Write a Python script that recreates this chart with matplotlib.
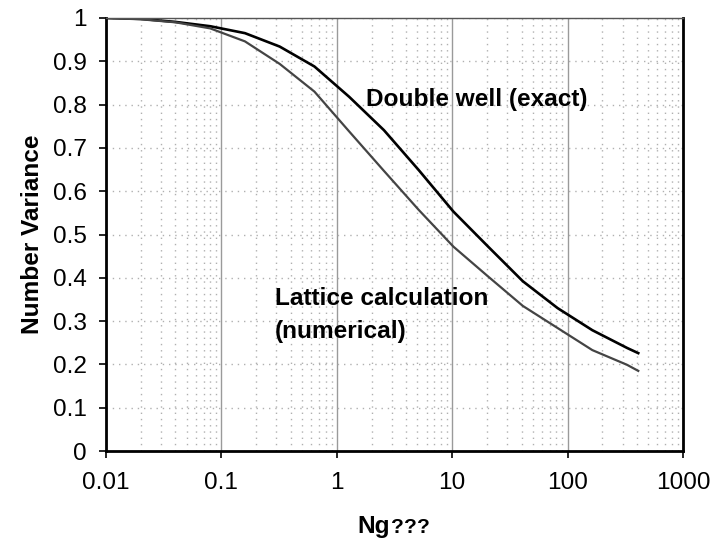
import matplotlib
matplotlib.use("Agg")
import matplotlib.pyplot as plt
from matplotlib.ticker import FixedLocator, NullFormatter, LogLocator

plt.rcParams['font.family'] = ['Liberation Sans', 'DejaVu Sans']

# data
ng = [0.01, 0.02, 0.04, 0.08, 0.16, 0.32, 0.64, 1.28, 2.56, 5.12, 10.24,
      20.48, 40.96, 81.92, 163.84, 327.68, 409.6]
double_well = [1.0, 0.998, 0.991, 0.981, 0.965, 0.934, 0.888, 0.818, 0.741,
               0.649, 0.553, 0.472, 0.392, 0.330, 0.279, 0.238, 0.226]
lattice = [1.0, 0.997, 0.990, 0.976, 0.946, 0.894, 0.830, 0.738, 0.647,
           0.557, 0.472, 0.403, 0.335, 0.284, 0.233, 0.199, 0.185]
x_ticks = [0.01, 0.1, 1, 10, 100, 1000]
x_tick_labels = ["0.01", "0.1", "1", "10", "100", "1000"]
y_ticks = [0, 0.1, 0.2, 0.3, 0.4, 0.5, 0.6, 0.7, 0.8, 0.9, 1]
y_tick_labels = ["0", "0.1", "0.2", "0.3", "0.4", "0.5", "0.6", "0.7", "0.8", "0.9", "1"]

FS = 17.6

fig = plt.figure(figsize=(7.15, 5.46), dpi=100)
ax = fig.add_axes([106/715, 1-451/546, (683-106)/715, (451-18)/546])

ax.set_xscale('log')
ax.set_xlim(0.01, 1000)
ax.set_ylim(0, 1)

ax.xaxis.set_major_locator(FixedLocator(x_ticks))
ax.xaxis.set_minor_locator(LogLocator(base=10, subs=range(2, 10), numticks=20))
ax.xaxis.set_minor_formatter(NullFormatter())
ax.set_xticklabels(x_tick_labels)
ax.set_yticks(y_ticks)
ax.set_yticklabels(y_tick_labels)

ax.grid(True, axis='x', which='major', color='#9a9a9a', linestyle='-', linewidth=1.0)
ax.grid(True, axis='x', which='minor', color='#b0b0b0', linestyle=(0, (1, 3.5)), linewidth=1.0)
ax.grid(True, axis='y', which='major', color='#b0b0b0', linestyle=(0, (1, 3.5)), linewidth=1.0)
ax.set_axisbelow(True)

ax.plot(ng, double_well, color='#000000', linewidth=1.9)
ax.plot(ng, lattice, color='#444444', linewidth=1.6)

for s in ['left', 'bottom', 'right']:
    ax.spines[s].set_color('black')
    ax.spines[s].set_linewidth(2.0)
ax.spines['top'].set_color('#555555')
ax.spines['top'].set_linewidth(1.0)

ax.tick_params(axis='both', which='major', direction='out', length=5, width=1.2,
               labelsize=FS, color='black')
ax.tick_params(axis='x', which='major', pad=10)
ax.tick_params(axis='y', which='major', pad=9)
ax.tick_params(axis='x', which='minor', length=0)
ax.tick_params(right=False, top=False)

ax.text(1.8, 0.811, "Double well (exact)", fontsize=FS, fontweight='bold',
        ha='left', va='center')
ax.text(0.29, 0.353, "Lattice calculation", fontsize=FS, fontweight='bold',
        ha='left', va='center')
ax.text(0.29, 0.275, "(numerical)", fontsize=FS, fontweight='bold',
        ha='left', va='center')

fig.text(33/715, 1-234/546, "Number Variance", fontsize=FS, fontweight='bold',
         rotation=90, ha='center', va='center')
fig.text(390/715, 1-533/546, "Ng", fontsize=FS, fontweight='bold',
         ha='right', va='baseline')
for xq in [397, 410, 423]:
    fig.text(xq/715, 1-533/546, "?", fontsize=15, fontweight='bold',
             ha='center', va='baseline')

fig.savefig("out.png", dpi=100)
